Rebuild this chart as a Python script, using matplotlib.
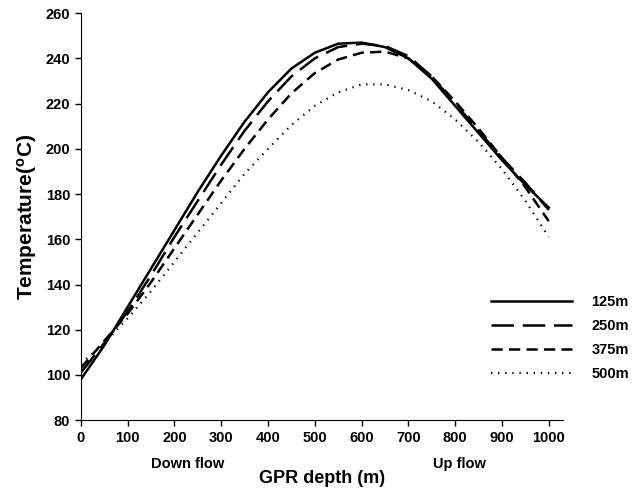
import numpy as np
import matplotlib
matplotlib.use('Agg')
import matplotlib.pyplot as plt
from matplotlib.transforms import blended_transform_factory

plt.rcParams['font.family'] = ['Liberation Sans', 'DejaVu Sans']
plt.rcParams['mathtext.fontset'] = 'custom'
plt.rcParams['mathtext.rm'] = 'Liberation Sans:bold'
plt.rcParams['mathtext.default'] = 'rm'

# GPR depth (m)
depth = [0, 50, 100, 150, 200, 250, 300, 350, 400, 450, 500,
         550, 600, 650, 700, 750, 800, 850, 900, 950, 1000]

# temperature (°C) for each spacing
temp_125 = [98, 113, 130, 147, 164, 181, 197, 212, 225, 235.5, 242.5,
            246.5, 247, 245, 240, 231, 219, 207, 195, 184, 174]
temp_250 = [101, 114, 128, 144, 161, 177, 193, 208, 221, 232, 240,
            245, 246.5, 245.5, 241, 232, 220, 208, 196, 185, 173]
temp_375 = [103, 115, 127, 141, 156, 171, 186, 200, 213, 224.5, 233.5,
            239.5, 242.5, 243, 240, 232, 221, 209, 196, 183, 168]
temp_500 = [105, 114, 125, 137, 150, 163, 176, 189, 200, 210.5, 219,
            225, 228.5, 228.5, 226, 221, 213, 203, 191, 177, 161]

labels = ['125m', '250m', '375m', '500m']
series = [temp_125, temp_250, temp_375, temp_500]
styles = ['-', (0, (9, 3.5)), (0, (4.5, 2.5)), (0, (0.6, 2.6))]
widths = [1.8, 1.8, 1.8, 1.6]

fig = plt.figure(figsize=(6.41, 4.88), dpi=100)
ax = fig.add_axes([0.126, 0.139, 0.752, 0.834])

handles = []
for temps, ls, lw, lab in zip(series, styles, widths, labels):
    h, = ax.plot(depth, temps, color='black', linestyle=ls, linewidth=lw, label=lab)
    handles.append(h)

ax.set_xlim(0, 1030)
ax.set_ylim(80, 260)
ax.set_xticks(np.arange(0, 1001, 100))
ax.set_yticks(np.arange(80, 261, 20))
ax.spines['top'].set_visible(False)
ax.spines['right'].set_visible(False)
ax.tick_params(direction='out', length=4, width=1, labelsize=10.5)
for t in ax.get_xticklabels() + ax.get_yticklabels():
    t.set_fontweight('bold')

ax.set_ylabel(r'Temperature($^{o}$C)', fontsize=15, fontweight='bold', labelpad=5)
ax.set_xlabel('GPR depth (m)', fontsize=13, fontweight='bold', labelpad=18)

trans = blended_transform_factory(ax.transData, ax.transAxes)
ax.text(229, -0.108, 'Down flow', transform=trans, ha='center', va='center',
        fontsize=10.5, fontweight='bold')
ax.text(810, -0.108, 'Up flow', transform=trans, ha='center', va='center',
        fontsize=10.5, fontweight='bold')

leg = fig.legend(handles=handles, loc='upper left', bbox_to_anchor=(0.745, 0.422),
                 frameon=False, handlelength=5.6, handletextpad=1.3,
                 labelspacing=0.68, prop={'weight': 'bold', 'size': 10.5})

fig.savefig('out.png', dpi=100)
